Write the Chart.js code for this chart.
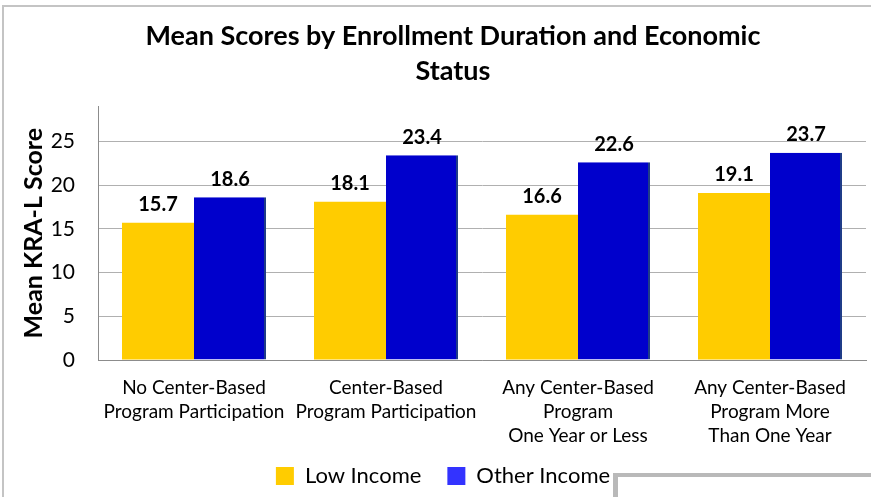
<!DOCTYPE html>
<html>
<head>
<meta charset="utf-8">
<script src="https://cdn.jsdelivr.net/npm/chart.js@4.4.1/dist/chart.umd.min.js"></script>
<style>
  html, body { margin: 0; padding: 0; background: #ffffff; overflow: hidden; }
  #wrap { position: relative; width: 871px; height: 497px; }
  #frame { position: absolute; left: 2px; top: 5px; width: 900px; height: 600px;
           border-left: 2px solid #c4c4c4; border-top: 2px solid #c4c4c4; }
  #corner { position: absolute; left: 613px; top: 473px; width: 300px; height: 100px;
            border-left: 5px solid #b9b9b9; border-top: 4px solid #b9b9b9; }
  canvas { position: absolute; left: 0; top: 0; }
</style>
</head>
<body>
<div id="wrap">
  <div id="frame"></div>
  <canvas id="c" width="871" height="497"></canvas>
  <div id="corner"></div>
</div>
<script>
const titleLines = ['Mean Scores by Enrollment Duration and Economic', 'Status'];
const categories = [
  ['No Center-Based', 'Program Participation'],
  ['Center-Based', 'Program Participation'],
  ['Any Center-Based', 'Program', 'One Year or Less'],
  ['Any Center-Based', 'Program More', 'Than One Year']
];
const seriesNames = ['Low Income', 'Other Income'];
const lowIncome = [15.7, 18.1, 16.6, 19.1];
const otherIncome = [18.6, 23.4, 22.6, 23.7];
const yTicks = [0, 5, 10, 15, 20, 25];
const yAxisTitle = 'Mean KRA-L Score';

const FONT = 'Lato';

const valueLabels = {
  id: 'valueLabels',
  afterDatasetsDraw(chart) {
    const ctx = chart.ctx;
    ctx.save();
    ctx.font = 'bold 20px ' + FONT;
    ctx.fillStyle = '#000000';
    ctx.textAlign = 'center';
    ctx.textBaseline = 'middle';
    chart.data.datasets.forEach((ds, di) => {
      const meta = chart.getDatasetMeta(di);
      meta.data.forEach((bar, i) => {
        ctx.fillText(ds.data[i].toFixed(1), bar.x, bar.y - 18);
      });
    });
    ctx.restore();
  }
};

const shiftBoxes = {
  id: 'shiftBoxes',
  afterLayout(chart) {
    const t = chart.titleBlock;
    if (t) { t.left += 20; t.right += 20; }
    const l = chart.legend;
    if (l) { l.left += 10; l.right += 10; }
    const x = chart.scales.x;
    if (x) { x.bottom += 14; }
  }
};

new Chart(document.getElementById('c'), {
  type: 'bar',
  data: {
    labels: categories,
    datasets: [
      { label: seriesNames[0], data: lowIncome, backgroundColor: '#FFCC00', borderWidth: 0 },
      { label: seriesNames[1], data: otherIncome, backgroundColor: '#0000CC',
        borderColor: '#1F3C88', borderWidth: { right: 2, top: 0, left: 0, bottom: 0 }, borderSkipped: false }
    ]
  },
  options: {
    responsive: false,
    animation: false,
    layout: { padding: { top: 0, right: 5, bottom: 0, left: 0 } },
    datasets: { bar: { categoryPercentage: 0.75, barPercentage: 1.0 } },
    plugins: {
      title: {
        display: true,
        text: titleLines,
        color: '#000000',
        font: { family: FONT, size: 27, weight: 'bold', lineHeight: 35 / 27 },
        padding: { top: 18.5, bottom: 17.8 }
      },
      legend: {
        display: true,
        position: 'bottom',
        labels: {
          font: { family: FONT, size: 22 },
          color: '#000000',
          boxWidth: 18,
          boxHeight: 18,
          padding: 26,
          generateLabels(chart) {
            const swatch = ['#FFCC00', '#3333FF'];
            return chart.data.datasets.map((ds, i) => ({
              text: ds.label, fillStyle: swatch[i], strokeStyle: swatch[i], lineWidth: 0,
              hidden: false, datasetIndex: i
            }));
          }
        }
      },
      tooltip: { enabled: false }
    },
    scales: {
      x: {
        afterFit(scale) { scale.height = 79; },
        grid: { display: false, drawTicks: false },
        border: { display: true, color: '#8c8c8c', width: 1 },
        ticks: { color: '#000000', font: { family: FONT, size: 19, lineHeight: 24 / 19 }, padding: 16, maxRotation: 0, autoSkip: false }
      },
      y: {
        min: 0,
        max: 29,
        afterBuildTicks(scale) { scale.ticks = yTicks.map(v => ({ value: v })); },
        afterFit(scale) { scale.width = 98; },
        grid: { color: '#b0b0b0', lineWidth: 1, drawTicks: false },
        border: { display: true, color: '#8c8c8c', width: 1 },
        ticks: { color: '#000000', font: { family: FONT, size: 21 }, padding: 23 },
        title: {
          display: true,
          text: yAxisTitle,
          color: '#000000',
          font: { family: FONT, size: 25, weight: 'bold', lineHeight: 1.2 },
          padding: { top: 19, bottom: 0 }
        }
      }
    }
  },
  plugins: [valueLabels, shiftBoxes]
});
</script>
</body>
</html>
